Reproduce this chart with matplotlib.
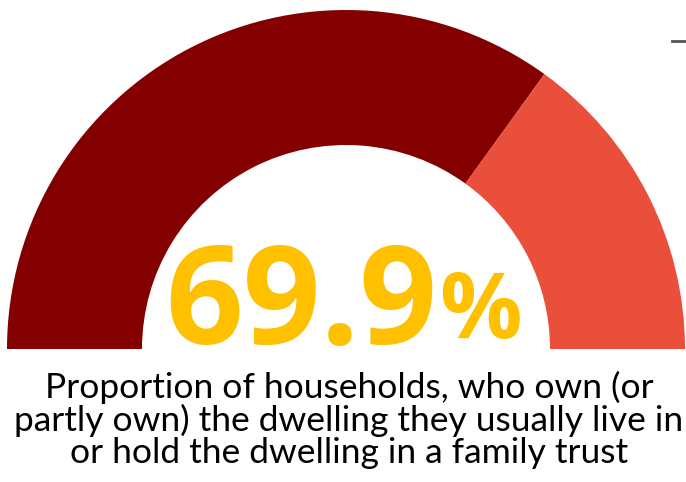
import matplotlib.pyplot as plt
from matplotlib.patches import Wedge

# gauge values (percent)
share_owned = 69.9
share_rest = 100 - share_owned
value_label = "69.9"
caption = ("Proportion of households, who own (or\n"
           "partly own) the dwelling they usually live in\n"
           "or hold the dwelling in a family trust")
colors = ["#840000", "#E94F3B"]

fig = plt.figure(figsize=(6.86, 4.82), dpi=100)
ax = fig.add_axes([0, 0, 1, 1])
ax.set_xlim(0, 686)
ax.set_ylim(482, 0)
ax.axis('off')

# semicircle geometry in pixel units
cx, cy = 346, 349
r_out, r_in = 339, 204

# angles run from 180 (left) to 0 (right); y axis is flipped so negate
start = 180.0
for val, col in zip([share_owned, share_rest], colors):
    sweep = val / 100 * 180
    end = start - sweep
    w = Wedge((cx, cy), r_out, -start, -end, width=r_out - r_in,
              facecolor=col, edgecolor='none')
    ax.add_patch(w)
    start = end

# big number
ax.text(437, 344, value_label, ha='right', va='baseline', fontsize=98,
        fontweight='bold', color='#FFC000', family='Open Sans')
ax.text(439, 338, "%", ha='left', va='baseline', fontsize=66,
        fontweight='bold', color='#FFC000', family='Open Sans')

ax.text(349, 420, caption, ha='center', va='center', fontsize=25.5,
        color='black', family='Lato', linespacing=1.0)

# small dash in the top right corner
ax.plot([672, 686], [41, 41], color='#555555', lw=2)

fig.savefig("out.png", dpi=100)
